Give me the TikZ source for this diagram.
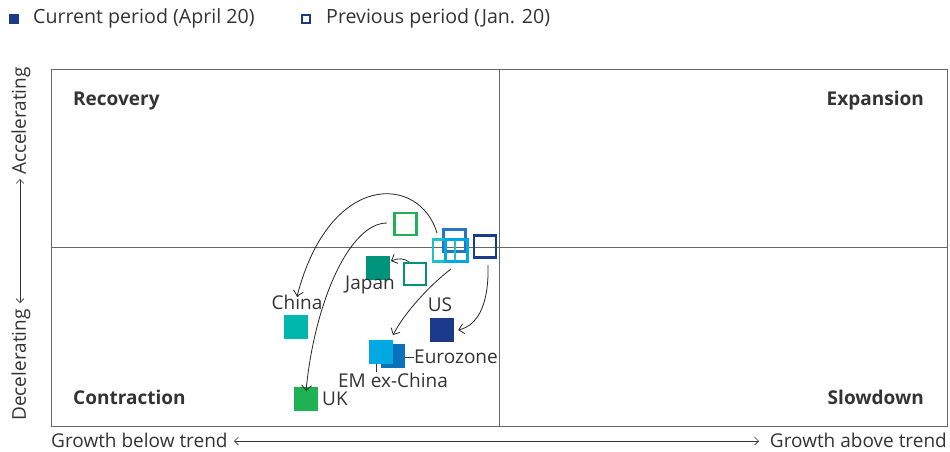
\documentclass[tikz,border=0pt]{standalone}
\usepackage{fontspec}
\setmainfont{Open Sans}
\usetikzlibrary{arrows.meta}
\definecolor{txt}{HTML}{333333}
\definecolor{frm}{HTML}{666666}
\definecolor{usc}{HTML}{1B3A8A}
\definecolor{ezc}{HTML}{0A72BA}
\definecolor{ezp}{HTML}{2476C4}
\definecolor{emc}{HTML}{00A9E4}
\definecolor{chc}{HTML}{00B7AE}
\definecolor{chp}{HTML}{1CC3C6}
\definecolor{jpc}{HTML}{00937C}
\definecolor{ukc}{HTML}{1FB254}
\begin{document}
\begin{tikzpicture}[x=1pt,y=-1pt,
  lbl/.style={font=\fontsize{19}{22}\selectfont, text=txt, inner sep=0pt},
  leg/.style={font=\fontsize{19.6}{22}\selectfont, text=txt, inner sep=0pt},
  quad/.style={font=\fontsize{19}{22}\selectfont\bfseries, text=txt, inner sep=0pt},
  prevsq/.style={draw=#1, line width=2.4pt, minimum size=22pt, inner sep=0pt},
  cursq/.style={fill=#1, minimum size=24pt, inner sep=0pt},
  arr/.style={-{Straight Barb[length=5pt,width=10pt]}, line width=0.8pt, black!85},
  axarr/.style={{Straight Barb[length=4pt,width=8pt]}-{Straight Barb[length=4pt,width=8pt]}, line width=0.6pt, txt},
  leader/.style={line width=0.9pt, txt}]
\useasboundingbox (0,0) rectangle (950,451);
% legend
\node[cursq=usc, minimum size=10pt] (lgc) at (14,18.5) {};
\node[leg, anchor=west] (lgct) at (33,18.5) {Current period (April 20)};
\node[prevsq=usc, line width=2pt, minimum size=8pt] (lgp) at (306,18.5) {};
\node[leg, anchor=west] (lgpt) at (326,18.5) {Previous period (Jan. 20)};
% frame
\coordinate (tl) at (51,69);
\coordinate (br) at (947,426);
\coordinate (tm) at (499,69);
\coordinate (bm) at (499,426);
\coordinate (lm) at (51,247.5);
\coordinate (rm) at (947,247.5);
\draw[frm, line width=0.9pt] (tl) rectangle (br);
\draw[frm, line width=0.9pt] (tm) -- (bm);
\draw[frm, line width=0.9pt] (lm) -- (rm);
% quadrant labels
\node[quad, anchor=west] (rec) at (73,101) {Recovery};
\node[quad, anchor=east] (exp) at (924,101) {Expansion};
\node[quad, anchor=west] (con) at (73,397) {Contraction};
\node[quad, anchor=east] (slo) at (924,397) {Slowdown};
% axes labels
\node[lbl, anchor=west] (gbt) at (51,440) {Growth below trend};
\node[lbl, anchor=east] (gat) at (947,440) {Growth above trend};
\coordinate (ga1) at (234,441);
\coordinate (ga2) at (759,441);
\draw[axarr] (ga1) -- (ga2);
\node[lbl, rotate=90] (acc) at (21,121) {Accelerating};
\node[lbl, rotate=90] (dec) at (21,365) {Decelerating};
\coordinate (va1) at (20,303);
\coordinate (va2) at (20,179);
\draw[axarr] (va1) -- (va2);
% previous squares
\node[prevsq=ukc] (ukP) at (405.5,224) {};
\node[prevsq=ezp] (ezP) at (454.5,240.5) {};
\node[prevsq=chp] (chP) at (444,250.5) {};
\node[prevsq=emc] (emP) at (456.5,250.5) {};
\node[prevsq=usc] (usP) at (485,246.5) {};
\node[prevsq=jpc] (jpP) at (415,274) {};
% current squares
\node[cursq=jpc] (jpC) at (378,268) {};
\node[cursq=chc] (chC) at (296,327) {};
\node[cursq=ukc] (ukC) at (306,399) {};
\node[cursq=usc] (usC) at (442,330) {};
\node[cursq=ezc] (ezC) at (393,356) {};
\node[cursq=emc] (emC) at (381,351.5) {};
% labels
\node[lbl] (jpL) at (370,285) {Japan};
\node[lbl] (chL) at (297,302) {China};
\node[lbl, anchor=west] (ukL) at (322,399) {UK};
\node[lbl] (usL) at (440,305) {US};
\node[lbl, anchor=west] (ezL) at (414,357) {Eurozone};
\node[lbl] (emL) at (393,380) {EM ex-China};
\draw[leader] (ezC.east |- ezL.west) -- (ezL.west);
\draw[leader] ([xshift=-5pt]emC.south) -- ([xshift=-5pt]emC.south |- emL.north);
% arrows
\coordinate (chS) at (437,233);
\draw[arr] (chS) .. controls (420,175) and (330,170) .. ([yshift=-2pt]chL.north);
\coordinate (ukS) at (387,223);
\draw[arr] (ukS) .. controls (350,223) and (315,300) .. ([yshift=-4pt]ukC.north);
\coordinate (jpS) at (409,262);
\draw[arr] (jpS) .. controls (404,258) and (398,258) .. (391,261);
\coordinate (emS) at (451,269);
\draw[arr] (emS) .. controls (430,285) and (405,312) .. (393,335);
\coordinate (usS) at (488,265);
\draw[arr] (usS) .. controls (489,300) and (480,325) .. ([xshift=4pt]usC.east);
\end{tikzpicture}
\end{document}
